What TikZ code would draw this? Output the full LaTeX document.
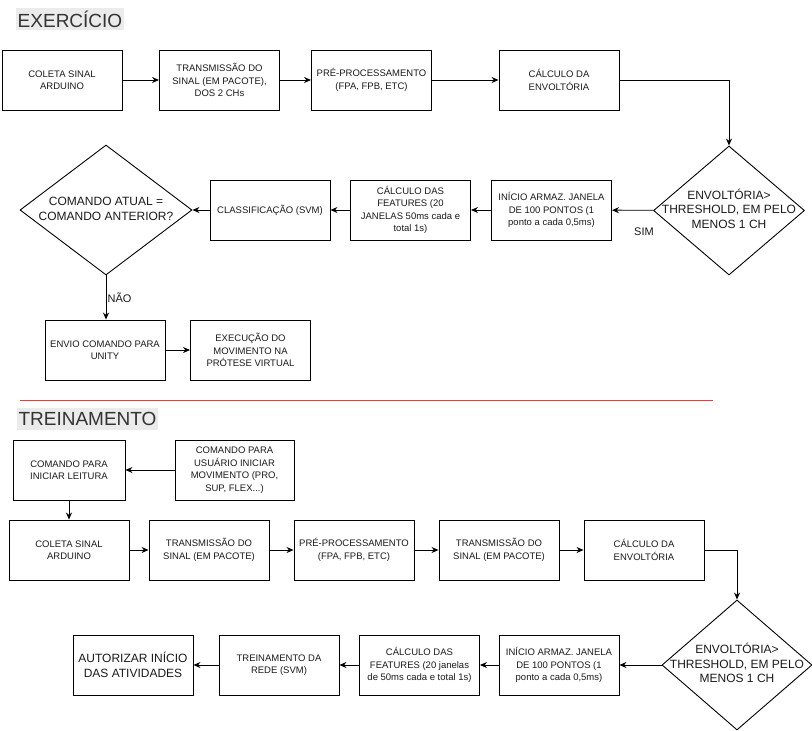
\documentclass[tikz,border=0pt]{standalone}
\usepackage{fontspec}
\setmainfont{Liberation Sans}
\usetikzlibrary{shapes.geometric,arrows.meta}
\definecolor{redline}{HTML}{B85450}
\definecolor{titlebg}{HTML}{EBEBEB}
\definecolor{txt}{HTML}{1A1A1A}
\begin{document}
\begin{tikzpicture}[x=1pt,y=-1pt,
  box/.style={draw,line width=0.9pt,minimum width=120pt,minimum height=60pt,inner sep=1pt,align=center,text=txt,
    font=\fontsize{9.5}{12.5}\selectfont},
  dec/.style={draw,line width=0.9pt,shape=diamond,inner sep=0pt,text=txt,font=\fontsize{12}{14.5}\selectfont},
  title/.style={fill=titlebg,inner xsep=2pt,inner ysep=0pt,minimum height=22pt,text=black!80,font=\fontsize{19}{22}\selectfont},
  lbl/.style={text=txt,font=\fontsize{11}{13}\selectfont,inner sep=0pt},
  arr/.style={draw,line width=0.9pt,-{Stealth[length=7pt,width=6pt]}}]
\useasboundingbox (0,0) rectangle (812,731);
% EXERCICIO
\node[title] (t1) at (70,19) {EXERCÍCIO};
\node[box] (a1) at (62,80) {COLETA SINAL\\ARDUINO};
\node[box] (a2) at (219.5,80) {TRANSMISSÃO DO\\SINAL (EM PACOTE),\\DOS 2 CHs};
\node[box] (a3) at (371.5,80) {PRÉ-PROCESSAMENTO\\(FPA, FPB, ETC)};
\node[box] (a4) at (559,80) {CÁLCULO DA\\ENVOLTÓRIA};
\node[dec,minimum width=151pt,minimum height=129pt] (d1) at (729,210.5) {\makebox[0pt]{\begin{tabular}{@{}c@{}}ENVOLTÓRIA>\\THRESHOLD, EM PELO\\MENOS 1 CH\end{tabular}}};
\node[box] (a5) at (551.5,210) {INÍCIO ARMAZ. JANELA\\DE 100 PONTOS (1\\ponto a cada 0,5ms)};
\node[box] (a6) at (410.5,210) {CÁLCULO DAS\\FEATURES (20\\JANELAS 50ms cada e\\total 1s)};
\node[box] (a7) at (270,210) {CLASSIFICAÇÃO (SVM)};
\node[dec,minimum width=172pt,minimum height=130pt] (d2) at (106,210) {\makebox[0pt]{\begin{tabular}{@{}c@{}}COMANDO ATUAL =\\COMANDO ANTERIOR?\end{tabular}}};
\node[box] (a8) at (105,350) {ENVIO COMANDO PARA\\UNITY};
\node[box] (a9) at (250.5,350) {EXECUÇÃO DO\\MOVIMENTO NA\\PRÓTESE VIRTUAL};
\node[lbl] (sim) at (644,232) {SIM};
\node[lbl,anchor=west] (nao) at (107.5,298) {NÃO};
\coordinate (c1) at (729,80);
\draw[arr] (a1) -- (a2);
\draw[arr] (a2) -- (a3);
\draw[arr] (a3) -- (a4);
\draw[arr] (a4.east) -- (c1) -- (d1.north);
\draw[arr] (d1) -- (a5);
\draw[arr] (a5) -- (a6);
\draw[arr] (a6) -- (a7);
\draw[arr] (a7) -- (d2);
\draw[arr] (d2.south) -- (d2.south |- a8.north);
\draw[arr] (a8) -- (a9);
% separator
\coordinate (r1) at (20,400);
\coordinate (r2) at (713,400);
\draw[redline,line width=1pt] (r1) -- (r2);
% TREINAMENTO
\node[title] (t2) at (87.5,419) {TREINAMENTO};
\node[box,minimum width=112pt] (b1) at (69,470) {COMANDO PARA\\INICIAR LEITURA};
\node[box,minimum width=119pt] (b2) at (234.5,470) {COMANDO PARA\\USUÁRIO INICIAR\\MOVIMENTO (PRO,\\SUP, FLEX...)};
\node[box] (b3) at (69,550) {COLETA SINAL\\ARDUINO};
\node[box] (b4) at (209,550) {TRANSMISSÃO DO\\SINAL (EM PACOTE)};
\node[box] (b5) at (354,550) {PRÉ-PROCESSAMENTO\\(FPA, FPB, ETC)};
\node[box] (b6) at (499,550) {TRANSMISSÃO DO\\SINAL (EM PACOTE)};
\node[box] (b7) at (644,550) {CÁLCULO DA\\ENVOLTÓRIA};
\node[dec,minimum width=150pt,minimum height=130pt] (d3) at (737,665) {\makebox[0pt]{\begin{tabular}{@{}c@{}}ENVOLTÓRIA>\\THRESHOLD, EM PELO\\MENOS 1 CH\end{tabular}}};
\node[box] (b8) at (559,665) {INÍCIO ARMAZ. JANELA\\DE 100 PONTOS (1\\ponto a cada 0,5ms)};
\node[box] (b9) at (419.5,665) {CÁLCULO DAS\\FEATURES (20 janelas\\de 50ms cada e total 1s)};
\node[box] (b10) at (279,665) {TREINAMENTO DA\\REDE (SVM)};
\node[box,font=\fontsize{12}{14.5}\selectfont] (b11) at (133,665) {AUTORIZAR INÍCIO\\DAS ATIVIDADES};
\coordinate (c2) at (737,550);
\draw[arr] (b2) -- (b1);
\draw[arr] (b1) -- (b3);
\draw[arr] (b3) -- (b4);
\draw[arr] (b4) -- (b5);
\draw[arr] (b5) -- (b6);
\draw[arr] (b6) -- (b7);
\draw[arr] (b7.east) -- (c2) -- (d3.north);
\draw[arr] (d3) -- (b8);
\draw[arr] (b8) -- (b9);
\draw[arr] (b9) -- (b10);
\draw[arr] (b10) -- (b11);
\end{tikzpicture}
\end{document}
